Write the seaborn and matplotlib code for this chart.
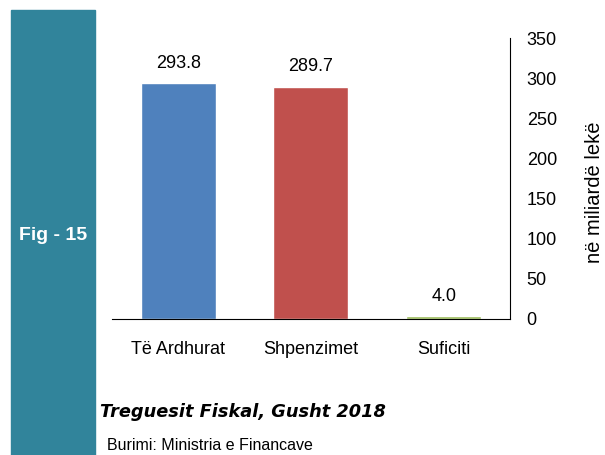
import matplotlib
matplotlib.use("Agg")
import matplotlib.pyplot as plt
import seaborn as sns
import pandas as pd
from matplotlib.patches import Rectangle

categories = ["Të Ardhurat", "Shpenzimet", "Suficiti"]
values = [293.8, 289.7, 4.0]
colors = ["#4F81BD", "#C0504D", "#9BBB59"]
yticks = [0, 50, 100, 150, 200, 250, 300, 350]

sns.set_style("white")
plt.rcParams["font.family"] = ["Liberation Sans", "DejaVu Sans"]
plt.rcParams["text.color"] = "black"
plt.rcParams["xtick.color"] = "black"
plt.rcParams["ytick.color"] = "black"
plt.rcParams["axes.labelcolor"] = "black"

df = pd.DataFrame({"cat": categories, "val": values})

fig = plt.figure(figsize=(6.05, 4.55), dpi=100)
ax = fig.add_axes([0.185, 0.299, 0.658, 0.617])

sns.barplot(data=df, x="cat", y="val", hue="cat", palette=colors,
            width=0.565, legend=False, ax=ax, saturation=1)

for i, v in enumerate(values):
    ax.annotate(f"{v:.1f}", (i, v), xytext=(0, 8), textcoords="offset points",
                ha="center", va="bottom", fontsize=13)

ax.set_xlim(-0.5, 2.5)
ax.set_ylim(0, 350)
ax.set_yticks(yticks)
ax.yaxis.tick_right()
ax.yaxis.set_label_position("right")
ax.tick_params(axis="y", length=0, pad=12, labelsize=13)
ax.tick_params(axis="x", length=0, pad=16, labelsize=13)
ax.set_xlabel("")
ax.set_ylabel("në miliardë lekë", fontsize=14.5)
ax.yaxis.label.set(va="center", ha="center", rotation_mode="default")
ax.yaxis.set_label_coords(1.213, 0.452)
for s in ["top", "left"]:
    ax.spines[s].set_visible(False)
ax.spines["right"].set_color("black")
ax.spines["bottom"].set_color("black")

# teal side band
fig.patches.append(Rectangle((11 / 605, 0), 84 / 605, 1 - 10 / 455,
                             transform=fig.transFigure, color="#31849B", zorder=0))
fig.text(53 / 605, 1 - 235 / 455, "Fig - 15", color="white", fontsize=14,
         fontweight="bold", ha="center", va="center")

fig.text(100 / 605, 1 - 412 / 455, "Treguesit Fiskal, Gusht 2018", fontsize=12.8,
         fontweight="bold", fontstyle="italic", family="DejaVu Sans",
         ha="left", va="center")
fig.text(107 / 605, 1 - 445 / 455, "Burimi: Ministria e Financave", fontsize=11.5,
         ha="left", va="center")

fig.savefig("out.png", dpi=100)
